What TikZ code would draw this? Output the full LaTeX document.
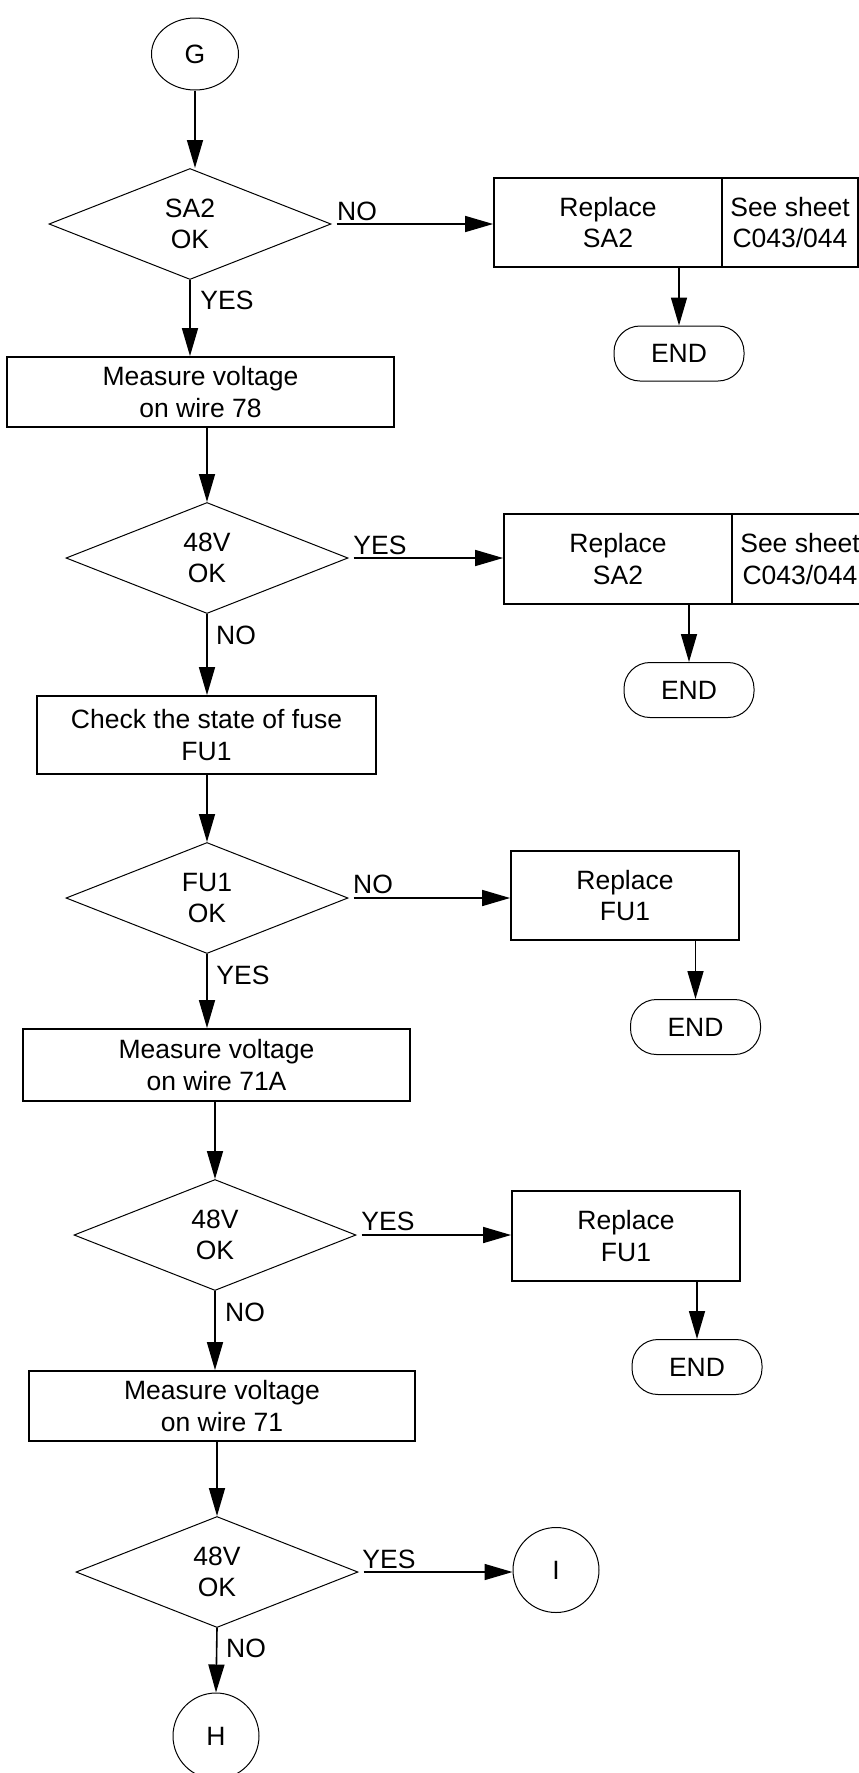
\documentclass[tikz,border=0pt]{standalone}
\usepackage{fontspec}
\setmainfont{Liberation Sans}
\usetikzlibrary{shapes.geometric,arrows.meta}
\begin{document}
\begin{tikzpicture}[x=1pt,y=-1pt,
  every node/.style={font=\fontsize{26.5}{31.5}\selectfont},
  box/.style={draw, rectangle, line width=1.8pt, inner sep=0pt, align=center},
  dec/.style={draw, diamond, aspect=2.54, line width=1pt, inner sep=0pt, align=center, minimum width=282pt, minimum height=111pt},
  term/.style={draw, rectangle, rounded corners=26pt, line width=1pt, minimum width=130pt, minimum height=55pt, inner sep=0pt},
  conn/.style={draw, ellipse, line width=1pt, inner sep=0pt},
  lbl/.style={inner sep=0pt},
  arr/.style={line width=1.6pt, -{Triangle[length=28pt,width=16pt]}}
]
\useasboundingbox (0,0) rectangle (859,1773);
\clip (0,0) rectangle (859,1773);

% nodes
\node[conn, minimum width=87pt, minimum height=72pt] (G) at (195,54) {G};
\node[dec] (D1) at (190,224) {SA2\\OK};
\node[box, minimum width=228pt, minimum height=89pt] (R1) at (608,222.5) {Replace\\SA2};
\node[box, minimum width=136pt, minimum height=89pt] (S1) at (790,222.5) {See sheet\\C043/044};
\node[term] (E1) at (679,353.5) {END};
\node[box, minimum width=387pt, minimum height=70pt] (B1) at (200.5,392) {Measure voltage\\on wire 78};

\node[dec] (D2) at (207,558) {48V\\OK};
\node[box, minimum width=228pt, minimum height=90pt] (R2) at (618,559) {Replace\\SA2};
\node[box, minimum width=136pt, minimum height=90pt] (S2) at (800,559) {See sheet\\C043/044};
\node[term] (E2) at (689,690) {END};
\node[box, minimum width=339pt, minimum height=78pt] (B2) at (206.5,735) {Check the state of fuse\\FU1};

\node[dec] (D3) at (207,898) {FU1\\OK};
\node[box, minimum width=228pt, minimum height=89pt] (R3) at (625,895.5) {Replace\\FU1};
\node[term] (E3) at (695.5,1027) {END};
\node[box, minimum width=387pt, minimum height=72pt] (B3) at (216.5,1065) {Measure voltage\\on wire 71A};

\node[dec] (D4) at (215,1235) {48V\\OK};
\node[box, minimum width=228pt, minimum height=90pt] (R4) at (626,1236) {Replace\\FU1};
\node[term] (E4) at (697,1367) {END};
\node[box, minimum width=386pt, minimum height=70pt] (B4) at (222,1406) {Measure voltage\\on wire 71};

\node[dec] (D5) at (217,1572) {48V\\OK};
\node[conn, minimum width=86pt, minimum height=85pt] (I) at (556,1570) {I};
\node[conn, minimum width=86pt, minimum height=86pt] (H) at (216,1736) {H};

% connectors
\draw[arr] (G.south) -- (G.south |- D1.north);
\draw[arr] ([xshift=5pt]D1.east) -- (D1.east -| R1.west);
\draw[arr] (E1 |- R1.south) -- (E1.north);
\draw[arr] (D1.south) -- (D1.south |- B1.north);

\draw[arr] (D2.north |- B1.south) -- (D2.north);
\draw[arr] ([xshift=5pt]D2.east) -- (D2.east -| R2.west);
\draw[arr] (E2 |- R2.south) -- (E2.north);
\draw[arr] (D2.south) -- (D2.south |- B2.north);

\draw[arr] (D3.north |- B2.south) -- (D3.north);
\draw[arr] ([xshift=5pt]D3.east) -- (D3.east -| R3.west);
\draw[arr] (E3 |- R3.south) -- (E3.north);
\draw[arr] (D3.south) -- (D3.south |- B3.north);

\draw[arr] (D4.north |- B3.south) -- (D4.north);
\draw[arr] ([xshift=5pt]D4.east) -- (D4.east -| R4.west);
\draw[arr] (E4 |- R4.south) -- (E4.north);
\draw[arr] (D4.south) -- (D4.south |- B4.north);

\draw[arr] (D5.north |- B4.south) -- (D5.north);
\draw[arr] ([xshift=5pt]D5.east) -- (D5.east -| I.west);
\draw[arr] (D5.south) -- (H.north);

% labels
\node[lbl] (l1) at (357,211) {NO};
\node[lbl] (l2) at (227,300) {YES};
\node[lbl] (l3) at (380,545) {YES};
\node[lbl] (l4) at (236,635) {NO};
\node[lbl] (l5) at (373,884) {NO};
\node[lbl] (l6) at (243,975) {YES};
\node[lbl] (l7) at (388,1221) {YES};
\node[lbl] (l8) at (245,1312) {NO};
\node[lbl] (l9) at (389,1559) {YES};
\node[lbl] (l10) at (246,1648) {NO};
\end{tikzpicture}
\end{document}
